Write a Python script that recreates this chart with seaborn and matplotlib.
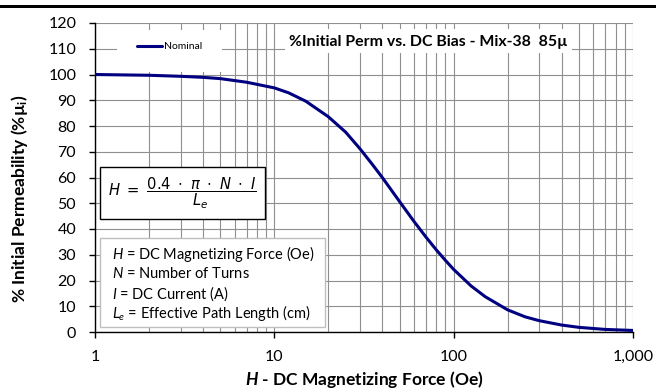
import matplotlib
matplotlib.use("Agg")
import matplotlib.pyplot as plt
from matplotlib.patches import Rectangle
from matplotlib.ticker import FixedLocator, FixedFormatter, LogLocator, NullFormatter
import seaborn as sns
import pandas as pd

# Percent of initial permeability versus DC magnetizing force (Oe)
h_oe = [1, 2, 3, 4, 5, 7, 10, 12, 15, 20, 25, 30, 35, 40, 50, 60, 70, 80, 90,
        100, 125, 150, 200, 250, 300, 400, 500, 700, 1000]
perm_pct = [100.0, 99.7, 99.3, 98.9, 98.4, 97.0, 94.8, 92.9, 89.6, 83.6, 77.6,
            71.2, 65.3, 60.0, 50.6, 43.0, 36.9, 31.9, 27.8,
            24.3, 17.9, 13.7, 8.6, 5.9, 4.4, 2.7, 1.8, 1.0, 0.6]
series_name = "Nominal"

x_ticks = [1, 10, 100, 1000]
x_tick_labels = ["1", "10", "100", "1,000"]
y_ticks = list(range(0, 121, 10))

title = "%Initial Perm vs. DC Bias - Mix-38  85µ"
x_label = r"$\mathbfit{H}$ - DC Magnetizing Force (Oe)"
y_label = r"% Initial Permeability (%µ$_\mathbf{i}$)"
formula = r"$H\ =\ \dfrac{0.4\ \cdot\ \pi\ \cdot\ N\ \cdot\ I}{L_e}$"
definitions = [
    r"$H$ = DC Magnetizing Force (Oe)",
    r"$N$ = Number of Turns",
    r"$I$ = DC Current (A)",
    r"$L_e$ = Effective Path Length (cm)",
]

sns.set_theme(style="white")
plt.rcParams["font.family"] = ["Lato", "DejaVu Sans"]
plt.rcParams["mathtext.fontset"] = "custom"
plt.rcParams["mathtext.rm"] = "Lato"
plt.rcParams["mathtext.it"] = "Lato:italic"
plt.rcParams["mathtext.bf"] = "Lato:bold"
plt.rcParams["mathtext.bfit"] = "Lato:italic:bold"

W, H = 656, 389
fig = plt.figure(figsize=(W / 100, H / 100), dpi=100)
L, R, T, B = 95, 633, 23, 332
ax = fig.add_axes([L / W, 1 - B / H, (R - L) / W, (B - T) / H])


def ax_x(px):
    return (px - L) / (R - L)


def ax_y(py):
    return (B - py) / (B - T)


df = pd.DataFrame({"H": h_oe, "perm": perm_pct})
sns.lineplot(data=df, x="H", y="perm", ax=ax, color="#000080", linewidth=2.2,
             label=series_name, zorder=3)
ax.lines[0].set_solid_joinstyle("round")

ax.set_xscale("log")
ax.set_xlim(1, 1000)
ax.set_ylim(0, 120)
ax.xaxis.set_major_locator(FixedLocator(x_ticks))
ax.xaxis.set_major_formatter(FixedFormatter(x_tick_labels))
ax.xaxis.set_minor_locator(LogLocator(base=10, subs=range(2, 10)))
ax.xaxis.set_minor_formatter(NullFormatter())
ax.set_yticks(y_ticks)

grid_kw = dict(color="#8f8f8f", linewidth=0.8)
ax.grid(True, which="both", axis="x", **grid_kw)
ax.grid(True, which="major", axis="y", **grid_kw)
ax.set_axisbelow(True)

for side in ("top", "right"):
    ax.spines[side].set_visible(False)
for side in ("left", "bottom"):
    ax.spines[side].set_color("black")
    ax.spines[side].set_linewidth(1.0)

ax.tick_params(axis="x", which="major", direction="out", length=4, width=1,
               color="black", labelsize=11.5, labelcolor="black", pad=9)
ax.tick_params(axis="x", which="minor", length=0)
ax.tick_params(axis="y", which="major", direction="out", length=4.5, width=1,
               color="black", labelsize=11.5, labelcolor="black", pad=9)
ax.tick_params(left=True, bottom=True)

ax.set_xlabel(x_label, fontsize=12.5, fontweight="bold", color="black")
ax.xaxis.set_label_coords(0.5, ax_y(380))
ax.xaxis.label.set_va("center")
ax.set_ylabel(y_label, fontsize=12.5, fontweight="bold", color="black")
ax.yaxis.set_label_coords(ax_x(20), ax_y(199))
ax.yaxis.label.set_va("center")

# white panels behind the legend and the in-plot title
ax.add_patch(Rectangle((ax_x(117), ax_y(72)), ax_x(222) - ax_x(117),
                       ax_y(30) - ax_y(72), transform=ax.transAxes,
                       facecolor="white", edgecolor="none", zorder=1))
ax.add_patch(Rectangle((ax_x(285), ax_y(53)), ax_x(572) - ax_x(285),
                       ax_y(29) - ax_y(53), transform=ax.transAxes,
                       facecolor="white", edgecolor="none", zorder=1))

ax.set_title(title, x=ax_x(428.5), y=ax_y(41.7), ha="center", va="center",
             fontsize=11.4, fontweight="bold", color="black", pad=0)

leg = ax.legend(loc="center", bbox_to_anchor=(ax_x(170), ax_y(46.7)),
                frameon=False, fontsize=7.5, handlelength=2.4,
                handletextpad=0.2, borderpad=0, borderaxespad=0)
for t in leg.get_texts():
    t.set_color("black")

# formula box
ax.add_patch(Rectangle((ax_x(100), ax_y(219)), ax_x(265) - ax_x(100),
                       ax_y(166.7) - ax_y(219), transform=ax.transAxes,
                       facecolor="white", edgecolor="black", linewidth=1.0,
                       zorder=4))
ax.text(ax_x(182.5), ax_y(193), formula, transform=ax.transAxes,
        ha="center", va="center", fontsize=10.6, color="black",
        math_fontfamily="dejavusans", zorder=5)

# definitions box
ax.add_patch(Rectangle((ax_x(100), ax_y(327)), ax_x(325) - ax_x(100),
                       ax_y(238) - ax_y(327), transform=ax.transAxes,
                       facecolor="white", edgecolor="#bfbfbf", linewidth=1.0,
                       zorder=4))
for line, py in zip(definitions, [254, 274, 294, 313]):
    ax.text(ax_x(111.7), ax_y(py), line, transform=ax.transAxes,
            ha="left", va="center", fontsize=10.5, color="black", zorder=5)

# heavy rule across the top of the figure
fig.add_artist(Rectangle((0, 1 - 8 / H), 1, 3 / H, transform=fig.transFigure,
                         facecolor="black", edgecolor="none"))

fig.savefig("out.png", dpi=100)
